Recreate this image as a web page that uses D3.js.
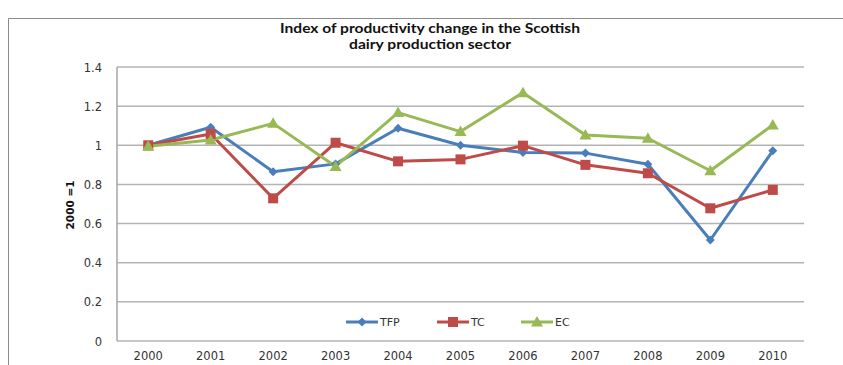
<!DOCTYPE html>
<html><head><meta charset="utf-8">
<script src="https://cdn.jsdelivr.net/npm/d3@7"></script>
<style>body{margin:0;background:#fff}svg{display:block}</style>
</head><body>
<svg id="c" width="843" height="365"></svg>
<script>
const years = ["2000","2001","2002","2003","2004","2005","2006","2007","2008","2009","2010"];
const tfp = [1.0,1.092,0.865,0.905,1.087,1.0,0.963,0.96,0.903,0.516,0.972];
const tc  = [1.0,1.058,0.729,1.013,0.918,0.928,0.998,0.90,0.857,0.678,0.772];
const ec  = [0.995,1.027,1.112,0.892,1.167,1.07,1.269,1.053,1.036,0.87,1.104];
const yTicks = [0,0.2,0.4,0.6,0.8,1,1.2,1.4];
const seriesNames = ["TFP","TC","EC"];
const colors = ["#4A7EBB","#BE4B48","#98B954"];

const svg = d3.select("#c");
// outer frame
svg.append("path").attr("d","M8.5,365 V18.5 H843").attr("fill","none").attr("stroke","#8c8c8c").attr("stroke-width",1);

const x = d3.scaleBand().domain(years).range([117,804]);
const y = d3.scaleLinear().domain([0,1.4]).range([341,67]);
const cx = d => x(d)+x.bandwidth()/2;

// gridlines
svg.append("g").selectAll("line").data(yTicks).join("line")
  .attr("x1",117).attr("x2",804).attr("y1",d=>y(d)).attr("y2",d=>y(d))
  .attr("stroke","#b3b3b3").attr("stroke-width",1.5);
svg.append("line").attr("x1",117).attr("x2",117).attr("y1",67).attr("y2",341)
  .attr("stroke","#a6a6a6").attr("stroke-width",1.5);

// y axis labels
const yAxis = d3.axisLeft(y).tickValues(yTicks).tickSize(0).tickPadding(0).tickFormat(d=>d3.format("")(d));
const ga = svg.append("g").attr("transform","translate(102,0)").call(yAxis);
ga.select(".domain").remove();
ga.selectAll("text").attr("font-family","DejaVu Sans").attr("font-size","11.5px").attr("fill","#333").attr("dy","0.35em");

// x axis labels
const xAxis = d3.axisBottom(x).tickSize(0).tickPadding(0);
const gx = svg.append("g").attr("transform","translate(0,352)").call(xAxis);
gx.select(".domain").remove();
gx.selectAll("text").attr("font-family","DejaVu Sans").attr("font-size","11.5px").attr("fill","#333").attr("dy","0.71em");

// title
const title = svg.append("text").attr("x",430).attr("y",33).attr("text-anchor","middle")
  .attr("font-family","Lato").attr("font-weight","bold").attr("font-size","13px").attr("fill","#111");
title.append("tspan").attr("x",430).attr("y",33).text("Index of productivity change in the Scottish").attr("textLength",300).attr("lengthAdjust","spacingAndGlyphs");
title.append("tspan").attr("x",430).attr("y",49).text("dairy production sector").attr("textLength",162).attr("lengthAdjust","spacingAndGlyphs");

// y axis title
svg.append("text").attr("transform","translate(74,205) rotate(-90)").attr("text-anchor","middle")
  .attr("font-family","DejaVu Sans").attr("font-weight","bold").attr("font-size","10.5px").attr("fill","#111")
  .text("2000 =1");

const data = [tfp,tc,ec];
const line = d3.line().x((d,i)=>cx(years[i])).y(d=>y(d));
function marker(g,type,col){
  if(type===0) g.append("path").attr("d","M0,-4.5 L4.5,0 L0,4.5 L-4.5,0 Z").attr("fill",col);
  else if(type===1) g.append("rect").attr("x",-5).attr("y",-5).attr("width",10).attr("height",10).attr("fill",col);
  else g.append("path").attr("d","M0,-6 L6,4.5 L-6,4.5 Z").attr("fill",col);
}
data.forEach((s,k)=>{
  svg.append("path").datum(s).attr("d",line).attr("fill","none").attr("stroke",colors[k])
    .attr("stroke-width",3).attr("stroke-linejoin","round");
});
data.forEach((s,k)=>{
  s.forEach((v,i)=>{
    const g = svg.append("g").attr("transform",`translate(${cx(years[i])},${y(v)})`);
    marker(g,k,colors[k]);
  });
});

// legend
const legX = [346,437,521];
seriesNames.forEach((n,k)=>{
  const g = svg.append("g").attr("transform",`translate(${legX[k]},322)`);
  g.append("line").attr("x1",0).attr("x2",32).attr("stroke",colors[k]).attr("stroke-width",3);
  const m = g.append("g").attr("transform","translate(16,0)");
  marker(m,k,colors[k]);
  g.append("text").attr("x",34).attr("dy","0.35em").attr("font-family","DejaVu Sans").attr("font-size","11px").attr("fill","#333").text(n);
});
</script>
</body></html>
